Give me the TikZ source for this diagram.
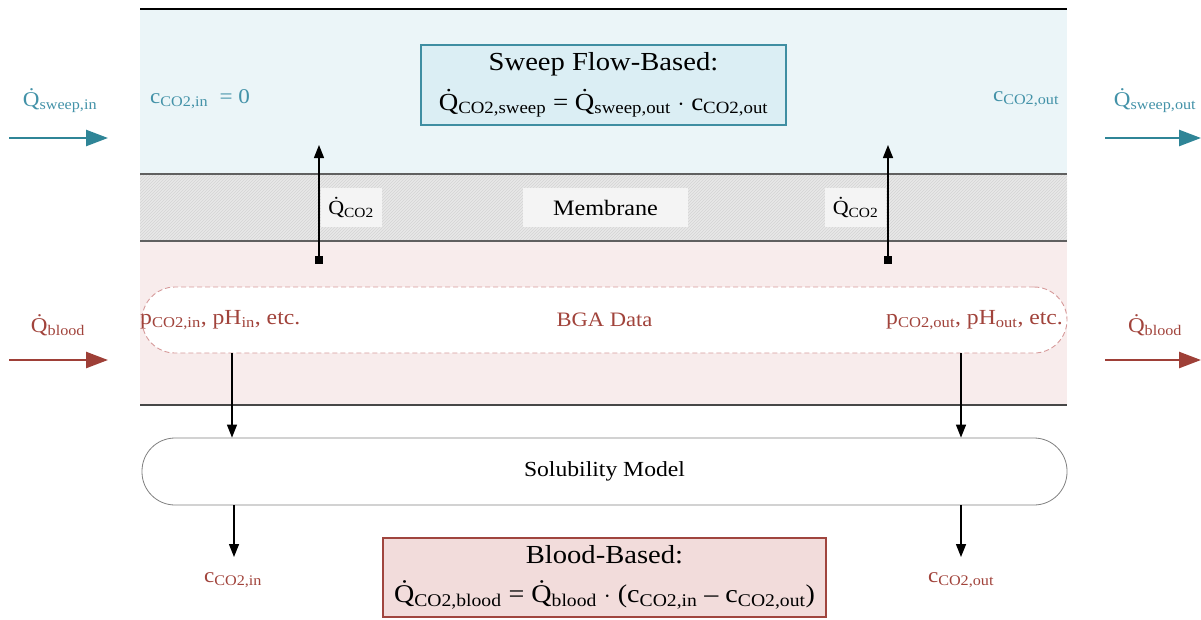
\documentclass[tikz,border=0pt]{standalone}
\usepackage{fontspec}
\setmainfont[FakeStretch=1.1]{Liberation Serif}
\usetikzlibrary{arrows.meta,patterns}
\definecolor{tealA}{HTML}{2F8597}
\definecolor{tealT}{HTML}{4392A8}
\definecolor{redT}{HTML}{A1433B}
\definecolor{redA}{HTML}{9E3F37}
\definecolor{sweepbg}{HTML}{EBF5F8}
\definecolor{bloodbg}{HTML}{F8ECEC}
\definecolor{membg}{HTML}{E8E8E8}
\definecolor{hatch}{HTML}{D4D4D4}
\definecolor{sweepbox}{HTML}{DBEEF4}
\definecolor{bloodbox}{HTML}{F2DCDB}
\definecolor{dashred}{HTML}{D69A9A}
\definecolor{tealbord}{HTML}{3F8EA2}
\definecolor{redbord}{HTML}{A0453E}
\newcommand\sbs[1]{\textsubscript{#1}}
\newcommand\Qd{Q^^^^0307}
\begin{document}
\begin{tikzpicture}[x=1pt,y=-1pt,
  lbl/.style={inner sep=0pt,font=\fontsize{21}{25}\selectfont},
  big/.style={align=center},
  flowT/.style={line width=2.5pt,draw=tealA,-{Triangle[length=22pt,width=16pt]}},
  flowR/.style={line width=2.5pt,draw=redA,-{Triangle[length=22pt,width=16pt]}},
  arr/.style={line width=1.4pt,-{Triangle[length=13pt,width=10pt]}},
  sqarr/.style={line width=1.4pt,{Square[length=8pt,width=8pt]}-{Triangle[length=13pt,width=10pt]}},
  lblbox/.style={fill=gray!9,inner sep=0pt}
]
\useasboundingbox (0,0) rectangle (1201,619);
% regions
\fill[sweepbg] (140,9) rectangle (1067,174);
\fill[membg] (140,174) rectangle (1067,241);
\fill[pattern=north east lines,pattern color=hatch] (140,174) rectangle (1067,241);
\fill[bloodbg] (140,241) rectangle (1067,405);
\draw[line width=1.5pt] (140,9) -- (1067,9);
\draw[line width=1.3pt,gray!75!black] (140,174) -- (1067,174) (140,241) -- (1067,241);
\draw[line width=2.5pt,black!72] (140,405) -- (1067,405);

% sweep side
\node[lbl,text=tealT] (qsin) at (60,101) {\Qd\sbs{sweep,in}};
\node[lbl,text=tealT] (qsout) at (1155,101) {\Qd\sbs{sweep,out}};
\node[lbl,text=tealT,anchor=west] (cin0) at (150,99) {c\sbs{CO2,in}\ \ = 0};
\node[lbl,text=tealT] (coutS) at (1026,99) {c\sbs{CO2,out}};
\coordinate (fsA) at (9,138); \coordinate (fsB) at (108,138);
\coordinate (fsC) at (1105,138); \coordinate (fsD) at (1201,138);
\draw[flowT] (fsA) -- (fsB);
\draw[flowT] (fsC) -- (fsD);

\node[draw=tealbord,fill=sweepbox,line width=1.8pt,minimum width=365,minimum height=80,inner sep=0pt,big] (sweep) at (603.5,85)
  {\fontsize{26}{30}\selectfont Sweep Flow-Based:\\[12pt]
   \fontsize{24.5}{30}\selectfont \Qd\sbs{CO2,sweep} = \Qd\sbs{sweep,out} $\cdot$ c\sbs{CO2,out}};

% membrane
\node[lblbox,minimum width=165,minimum height=39,font=\fontsize{22}{26}\selectfont] (mem) at (605.5,207.5) {Membrane};
\node[lblbox,minimum width=61,minimum height=39,font=\fontsize{20}{24}\selectfont] (qL) at (351,207.5) {\Qd\sbs{CO2}};
\node[lblbox,minimum width=61,minimum height=39,font=\fontsize{20}{24}\selectfont] (qR) at (855.5,207.5) {\Qd\sbs{CO2}};
\coordinate (upL0) at (319,264); \coordinate (upL1) at (319,145);
\coordinate (upR0) at (888,264); \coordinate (upR1) at (888,145);
\draw[sqarr] (upL0) -- (upL1);
\draw[sqarr] (upR0) -- (upR1);

% blood side
\node[lbl,text=redT] (qbin) at (58,325) {\Qd\sbs{blood}};
\node[lbl,text=redT] (qbout) at (1155,325) {\Qd\sbs{blood}};
\coordinate (fbA) at (9,360); \coordinate (fbB) at (108,360);
\coordinate (fbC) at (1105,360); \coordinate (fbD) at (1201,360);
\draw[flowR] (fbA) -- (fbB);
\draw[flowR] (fbC) -- (fbD);

\node[draw=dashred,dash pattern=on 5pt off 3pt,line width=0.9pt,fill=white,rounded corners=33,minimum width=925,minimum height=66,inner sep=0pt,font=\fontsize{20.5}{25}\selectfont,text=redT] (bga) at (604.5,320) {BGA Data};
\node[lbl,text=redT,anchor=west,font=\fontsize{21.5}{25}\selectfont] (pin) at (140,320) {p\sbs{CO2,in}, pH\sbs{in}, etc.};
\node[lbl,text=redT,anchor=east,font=\fontsize{21.5}{25}\selectfont] (pout) at (1063,320) {p\sbs{CO2,out}, pH\sbs{out}, etc.};

% solubility
\node[draw=gray,line width=0.8pt,fill=white,rounded corners=33,minimum width=925,minimum height=67,inner sep=0pt,font=\fontsize{21.5}{25}\selectfont] (sol) at (604.5,471.5) {Solubility Model};
\coordinate (xL) at (232,0); \coordinate (xR) at (961,0);
\draw[arr] (bga.south -| xL) -- (sol.north -| xL);
\draw[arr] (bga.south -| xR) -- (sol.north -| xR);

\node[lbl,text=redT] (cin) at (233,580) {c\sbs{CO2,in}};
\node[lbl,text=redT] (cout) at (961,580) {c\sbs{CO2,out}};
\coordinate (tL) at (234,557); \coordinate (tR) at (961,557);
\draw[arr] (sol.south -| tL) -- (tL);
\draw[arr] (sol.south -| tR) -- (tR);

\node[draw=redbord,fill=bloodbox,line width=1.8pt,minimum width=443,minimum height=79,inner sep=0pt,big] (blood) at (604.5,577.5)
  {\fontsize{26}{30}\selectfont Blood-Based:\\[16pt]
   \fontsize{25.5}{30}\selectfont \Qd\sbs{CO2,blood} = \Qd\sbs{blood} $\cdot$ (c\sbs{CO2,in} -- c\sbs{CO2,out})};
\end{tikzpicture}
\end{document}
